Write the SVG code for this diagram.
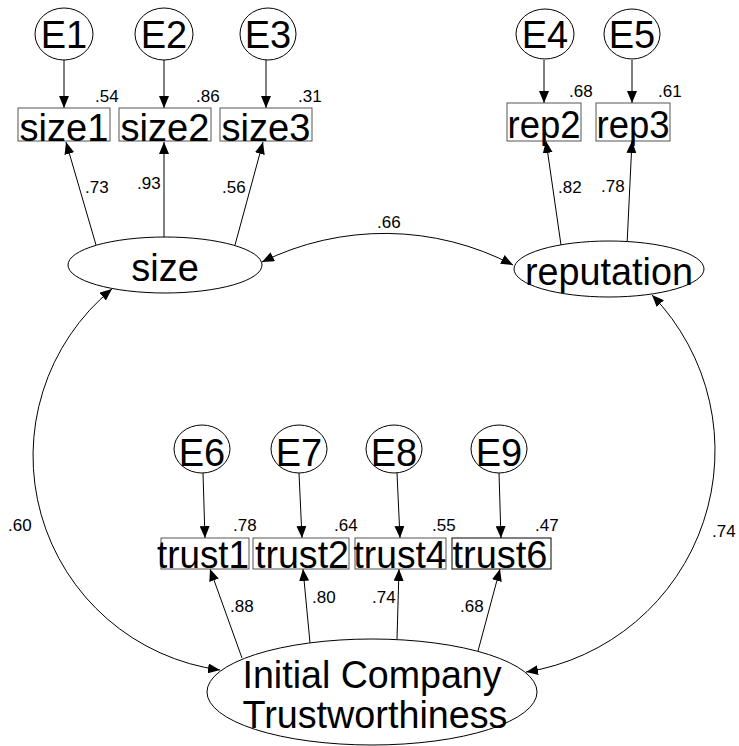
<svg xmlns="http://www.w3.org/2000/svg" width="739" height="746" viewBox="0 0 739 746">
  <style>
    .node ellipse { fill: #fff; stroke: #000; stroke-width: 1; }
    .node rect { fill: #fff; stroke: #555; stroke-width: 1; }
    .big { font-family: "Liberation Sans", Arial, sans-serif; font-size: 38px; fill: #000; text-anchor: middle; }
    .lbl { font-family: "Liberation Sans", Arial, sans-serif; font-size: 17px; fill: #000; }
    .conn path, .conn line { fill: none; stroke: #000; stroke-width: 1; }
  </style>
  <defs>
    <marker id="arrow" markerUnits="userSpaceOnUse" markerWidth="12" markerHeight="10" refX="12" refY="5" orient="auto-start-reverse">
      <path d="M0,0 L12,5 L0,10 Z" fill="#000"/>
    </marker>
  </defs>
  <rect width="739" height="746" fill="#fff"/>

  <!-- connectors -->
  <g id="connectors" class="conn">
    <!-- error terms to indicators -->
    <line x1="64" y1="60" x2="64" y2="108" marker-end="url(#arrow)"/>
    <line x1="164" y1="60" x2="164" y2="108" marker-end="url(#arrow)"/>
    <line x1="266" y1="60" x2="266" y2="108" marker-end="url(#arrow)"/>
    <line x1="544" y1="60" x2="544" y2="103" marker-end="url(#arrow)"/>
    <line x1="632" y1="60" x2="632" y2="103" marker-end="url(#arrow)"/>
    <line x1="203" y1="473" x2="205" y2="538" marker-end="url(#arrow)"/>
    <line x1="299" y1="473" x2="302" y2="538" marker-end="url(#arrow)"/>
    <line x1="397" y1="473" x2="400" y2="538" marker-end="url(#arrow)"/>
    <line x1="499" y1="473" x2="501" y2="538" marker-end="url(#arrow)"/>
    <!-- factor loadings -->
    <line x1="96" y1="245" x2="66" y2="142" marker-end="url(#arrow)"/>
    <line x1="164" y1="237" x2="164" y2="142" marker-end="url(#arrow)"/>
    <line x1="235" y1="245" x2="263" y2="142" marker-end="url(#arrow)"/>
    <line x1="561" y1="245" x2="546" y2="141" marker-end="url(#arrow)"/>
    <line x1="627" y1="245" x2="632" y2="141" marker-end="url(#arrow)"/>
    <line x1="242" y1="658" x2="210" y2="569" marker-end="url(#arrow)"/>
    <line x1="310" y1="643" x2="303" y2="569" marker-end="url(#arrow)"/>
    <line x1="397" y1="639" x2="399" y2="569" marker-end="url(#arrow)"/>
    <line x1="478" y1="651" x2="500" y2="569" marker-end="url(#arrow)"/>
    <!-- covariances -->
    <path d="M262,262 A277,277 0 0 1 513,265" marker-start="url(#arrow)" marker-end="url(#arrow)"/>
    <path d="M112,289 A216,216 0 0 0 220,670" marker-start="url(#arrow)" marker-end="url(#arrow)"/>
    <path d="M652,295 A224,224 0 0 1 526,672" marker-start="url(#arrow)" marker-end="url(#arrow)"/>
  </g>

  <!-- coefficient labels -->
  <g id="labels" class="lbl">
    <text x="95" y="102">.54</text>
    <text x="196" y="102">.86</text>
    <text x="298" y="102">.31</text>
    <text x="85" y="193">.73</text>
    <text x="137" y="189">.93</text>
    <text x="222" y="193">.56</text>
    <text x="569" y="97">.68</text>
    <text x="658" y="97">.61</text>
    <text x="558" y="193">.82</text>
    <text x="601" y="192">.78</text>
    <text x="377" y="228">.66</text>
    <text x="8" y="531">.60</text>
    <text x="712" y="537">.74</text>
    <text x="233" y="531">.78</text>
    <text x="334" y="531">.64</text>
    <text x="432" y="531">.55</text>
    <text x="535" y="531">.47</text>
    <text x="230" y="612">.88</text>
    <text x="312" y="603">.80</text>
    <text x="372" y="603">.74</text>
    <text x="460" y="612">.68</text>
  </g>

  <!-- error terms -->
  <g id="E1" class="node"><ellipse cx="64" cy="34" rx="29" ry="26"/><text class="big" x="64" y="48">E1</text></g>
  <g id="E2" class="node"><ellipse cx="164" cy="34" rx="29" ry="26"/><text class="big" x="164" y="48">E2</text></g>
  <g id="E3" class="node"><ellipse cx="268" cy="34" rx="28" ry="26"/><text class="big" x="268" y="48">E3</text></g>
  <g id="E4" class="node"><ellipse cx="545" cy="34" rx="29" ry="25"/><text class="big" x="545" y="48">E4</text></g>
  <g id="E5" class="node"><ellipse cx="632" cy="34" rx="28" ry="25"/><text class="big" x="632" y="48">E5</text></g>
  <g id="E6" class="node"><ellipse cx="202" cy="449" rx="28" ry="24"/><text class="big" x="202" y="466">E6</text></g>
  <g id="E7" class="node"><ellipse cx="299" cy="449" rx="28" ry="24"/><text class="big" x="299" y="466">E7</text></g>
  <g id="E8" class="node"><ellipse cx="394" cy="449" rx="28" ry="24"/><text class="big" x="394" y="466">E8</text></g>
  <g id="E9" class="node"><ellipse cx="499" cy="449" rx="28" ry="24"/><text class="big" x="499" y="466">E9</text></g>

  <!-- observed indicators -->
  <g id="size1" class="node"><rect x="18" y="108" width="92" height="33"/><text class="big" x="64" y="141" textLength="89" lengthAdjust="spacingAndGlyphs">size1</text></g>
  <g id="size2" class="node"><rect x="119" y="108" width="92" height="33"/><text class="big" x="165" y="141" textLength="89" lengthAdjust="spacingAndGlyphs">size2</text></g>
  <g id="size3" class="node"><rect x="220" y="108" width="92" height="33"/><text class="big" x="266" y="141" textLength="89" lengthAdjust="spacingAndGlyphs">size3</text></g>
  <g id="rep2" class="node"><rect x="507" y="103" width="74" height="38"/><text class="big" x="544" y="138" textLength="73" lengthAdjust="spacingAndGlyphs">rep2</text></g>
  <g id="rep3" class="node"><rect x="596" y="103" width="74" height="38"/><text class="big" x="633" y="138" textLength="73" lengthAdjust="spacingAndGlyphs">rep3</text></g>
  <g id="trust1" class="node"><rect x="161" y="538" width="88" height="31"/><text class="big" x="203" y="568" textLength="92" lengthAdjust="spacingAndGlyphs">trust1</text></g>
  <g id="trust2" class="node"><rect x="253" y="538" width="96" height="31"/><text class="big" x="302" y="568" textLength="94" lengthAdjust="spacingAndGlyphs">trust2</text></g>
  <g id="trust4" class="node"><rect x="355" y="538" width="91" height="31"/><text class="big" x="400" y="568" textLength="93" lengthAdjust="spacingAndGlyphs">trust4</text></g>
  <g id="trust6" class="node"><rect x="452" y="538" width="99" height="31" style="stroke:#000"/><text class="big" x="500" y="568" textLength="95" lengthAdjust="spacingAndGlyphs">trust6</text></g>

  <!-- latent factors -->
  <g id="size" class="node"><ellipse cx="165" cy="265" rx="97" ry="28"/><text class="big" x="165" y="281">size</text></g>
  <g id="reputation" class="node"><ellipse cx="609" cy="269" rx="95" ry="28"/><text class="big" x="609" y="285" textLength="168" lengthAdjust="spacingAndGlyphs">reputation</text></g>
  <g id="trustworthiness" class="node"><ellipse cx="372" cy="692" rx="165" ry="53"/>
    <text class="big" x="372" y="688" textLength="259" lengthAdjust="spacingAndGlyphs">Initial Company</text>
    <text class="big" x="375" y="728" textLength="265" lengthAdjust="spacingAndGlyphs">Trustworthiness</text>
  </g>
</svg>
